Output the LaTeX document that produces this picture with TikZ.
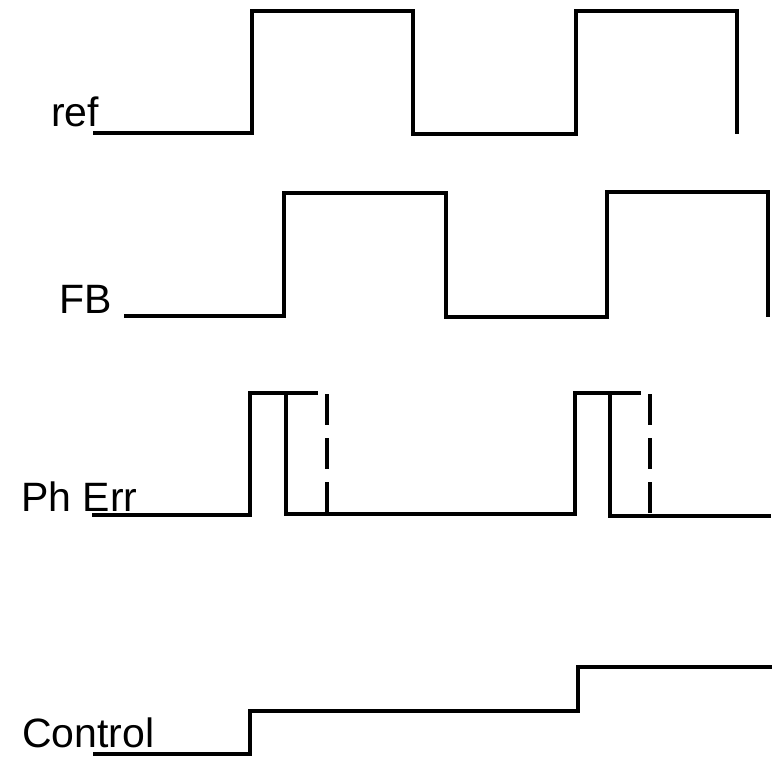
\documentclass[tikz,border=0pt]{standalone}
\usepackage{fontspec}
\setmainfont{Liberation Sans}
\begin{document}
\begin{tikzpicture}[x=1pt,y=-1pt,
  wave/.style={line width=3.2pt,line cap=butt,line join=miter},
  dwave/.style={wave,dash pattern=on 31pt off 13pt},
  lbl/.style={anchor=base west,inner sep=0pt,font=\fontsize{41}{41}\selectfont}]
\useasboundingbox (0,0) rectangle (772,758);
% labels
\node[lbl] (ref) at (51,126) {ref};
\node[lbl] (fb) at (59,313) {FB};
\node[lbl] (ph) at (21,511) {Ph Err};
\node[lbl] (ctl) at (22,747) {Control};
% ref
\draw[wave] (93,133) -- (252,133) -- (252,11) -- (413,11) -- (413,134) -- (576,134) -- (576,11) -- (737,11) -- (737,134);
% FB
\draw[wave] (124,316) -- (284,316) -- (284,193) -- (446,193) -- (446,317) -- (607,317) -- (607,192) -- (768,192) -- (768,317);
% Ph Err
\draw[wave] (92,515) -- (250,515) -- (250,393) -- (318,393);
\draw[wave] (286,393) -- (286,514) -- (575,514) -- (575,393) -- (641,393);
\draw[wave] (610,393) -- (610,516) -- (771,516);
\draw[dwave] (327,394) -- (327,515);
\draw[dwave] (650,394) -- (650,515);
% Control
\draw[wave] (93,754) -- (250,754) -- (250,711) -- (578,711) -- (578,667) -- (772,667);
\end{tikzpicture}
\end{document}
